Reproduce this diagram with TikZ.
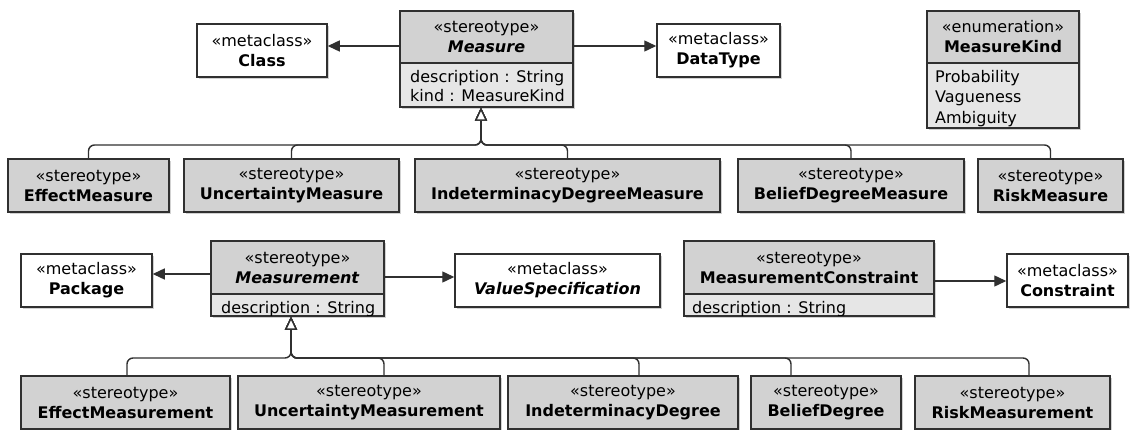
\documentclass[tikz,border=0pt]{standalone}
\usepackage{fontspec}
\setmainfont{DejaVu Sans}
\usetikzlibrary{arrows.meta,shadows}

\definecolor{umlline}{HTML}{303030}
\definecolor{umlhead}{HTML}{D2D2D2}
\definecolor{umlattr}{HTML}{E6E6E6}

\tikzset{
  every node/.style={font=\fontsize{16}{20}\selectfont},
  umlbox/.style={draw=umlline, line width=1.5pt, inner sep=0pt, align=center,
    drop shadow={shadow xshift=2pt, shadow yshift=-2pt, fill=black, opacity=0.18}},
  metabox/.style={umlbox, fill=white, minimum height=53pt},
  stereobox/.style={umlbox, fill=umlhead, minimum height=53pt},
  headbox/.style={umlbox, fill=umlhead},
  attrbox/.style={umlbox, fill=umlattr},
  attrtext/.style={anchor=base west, inner sep=0pt},
  extension/.style={draw=umlline, line width=1.4pt,
    -{Triangle[length=12pt,width=11pt]}},
  generalization/.style={draw=umlline, line width=1.4pt, rounded corners=6pt,
    -{Triangle[open,length=13pt,width=12pt,fill=white]}},
}

\begin{document}
\begin{tikzpicture}[x=1pt,y=-1pt]
\useasboundingbox (0,0) rectangle (1131,430);
\fill[white] (0,0) rectangle (1131,430);

% ---------- Measure and its metaclasses ----------
\node[metabox, minimum width=130pt] (class) at (262,50.5)
  {«metaclass»\\\textbf{Class}};
\node[headbox, minimum width=173pt, minimum height=52pt] (measure) at (486.5,37)
  {«stereotype»\\\textbf{\textit{Measure}}};
\node[attrbox, minimum width=173pt, minimum height=44pt] (measureAttr) at (486.5,85) {};
\begin{scope}
  \clip ([xshift=1pt,yshift=1pt]measureAttr.south west)
        rectangle ([xshift=-1pt,yshift=-1pt]measureAttr.north east);
  \node[attrtext] (measureDesc) at (410,83) {description : String};
  \node[attrtext] (measureKindAttr) at (410,102) {kind : MeasureKind};
\end{scope}
\node[metabox, minimum width=123pt] (datatype) at (718.5,50.5)
  {«metaclass»\\\textbf{DataType}};

% ---------- MeasureKind enumeration ----------
\node[headbox, minimum width=152pt, minimum height=52pt] (kind) at (1003,37)
  {«enumeration»\\\textbf{MeasureKind}};
\node[attrbox, minimum width=152pt, minimum height=65pt] (kindAttr) at (1003,95.5) {};
\begin{scope}
  \clip ([xshift=1pt,yshift=1pt]kindAttr.south west)
        rectangle ([xshift=-1pt,yshift=-1pt]kindAttr.north east);
  \node[attrtext] (litProb) at (935,83) {Probability};
  \node[attrtext] (litVague) at (935,103) {Vagueness};
  \node[attrtext] (litAmb) at (935,123.5) {Ambiguity};
\end{scope}

\draw[extension] (measure.west |- 0,46) -- (class.east |- 0,46);
\draw[extension] (measure.east |- 0,46) -- (datatype.west |- 0,46);

% ---------- Measure specialisations ----------
\node[stereobox, minimum width=161pt] (em) at (88.5,185.5)
  {«stereotype»\\\textbf{EffectMeasure}};
\node[stereobox, minimum width=215pt] (um) at (291.5,185.5)
  {«stereotype»\\\textbf{UncertaintyMeasure}};
\node[stereobox, minimum width=305pt] (idm) at (567.5,185.5)
  {«stereotype»\\\textbf{IndeterminacyDegreeMeasure}};
\node[stereobox, minimum width=226pt] (bdm) at (851,185.5)
  {«stereotype»\\\textbf{BeliefDegreeMeasure}};
\node[stereobox, minimum width=145pt] (rm) at (1050.5,185.5)
  {«stereotype»\\\textbf{RiskMeasure}};

\coordinate (measureBase) at ([xshift=-5.5pt]measureAttr.south);
\foreach \c in {em,um,idm,bdm,rm}
  \draw[generalization] (\c.north) |- (measureBase |- 0,145) -- (measureBase);

% ---------- Measurement and its metaclasses ----------
\node[metabox, minimum width=131pt] (package) at (86.5,280.5)
  {«metaclass»\\\textbf{Package}};
\node[headbox, minimum width=173pt, minimum height=53pt] (measurement) at (297.5,267.5)
  {«stereotype»\\\textbf{\textit{Measurement}}};
\node[attrbox, minimum width=173pt, minimum height=22pt] (measurementAttr) at (297.5,305) {};
\begin{scope}
  \clip ([xshift=1pt,yshift=1pt]measurementAttr.south west)
        rectangle ([xshift=-1pt,yshift=-1pt]measurementAttr.north east);
  \node[attrtext] (measurementDesc) at (221,313.5) {description : String};
\end{scope}
\node[metabox, minimum width=205pt] (valuespec) at (557.5,280.5)
  {«metaclass»\\\textbf{\textit{ValueSpecification}}};

\draw[extension] (measurement.west |- 0,274) -- (package.east |- 0,274);
\draw[extension] (measurement.east |- 0,277) -- (valuespec.west |- 0,277);

% ---------- MeasurementConstraint ----------
\node[headbox, minimum width=250pt, minimum height=53pt] (mconstraint) at (809,267.5)
  {«stereotype»\\\textbf{MeasurementConstraint}};
\node[attrbox, minimum width=250pt, minimum height=22pt] (mconstraintAttr) at (809,305) {};
\begin{scope}
  \clip ([xshift=1pt,yshift=1pt]mconstraintAttr.south west)
        rectangle ([xshift=-1pt,yshift=-1pt]mconstraintAttr.north east);
  \node[attrtext] (mconstraintDesc) at (692,313.5) {description : String};
\end{scope}
\node[metabox, minimum width=121pt] (constraint) at (1067.5,280.5)
  {«metaclass»\\\textbf{Constraint}};

\draw[extension] (mconstraint.east |- 0,281) -- (constraint.west |- 0,281);

% ---------- Measurement specialisations ----------
\node[stereobox, minimum width=209pt] (emt) at (125.5,402.5)
  {«stereotype»\\\textbf{EffectMeasurement}};
\node[stereobox, minimum width=262pt] (umt) at (369,402.5)
  {«stereotype»\\\textbf{UncertaintyMeasurement}};
\node[stereobox, minimum width=230pt] (idg) at (623,402.5)
  {«stereotype»\\\textbf{IndeterminacyDegree}};
\node[stereobox, minimum width=150pt] (bd) at (826,402.5)
  {«stereotype»\\\textbf{BeliefDegree}};
\node[stereobox, minimum width=195pt] (rmt) at (1012.5,402.5)
  {«stereotype»\\\textbf{RiskMeasurement}};

\coordinate (measurementBase) at ([xshift=-6.5pt]measurementAttr.south);
\foreach \c/\dx in {emt/1.5,umt/15,idg/16,bd/-35,rmt/16.5}
  \draw[generalization] ([xshift=\dx pt]\c.north) |- (measurementBase |- 0,358)
    -- (measurementBase);
\end{tikzpicture}
\end{document}
